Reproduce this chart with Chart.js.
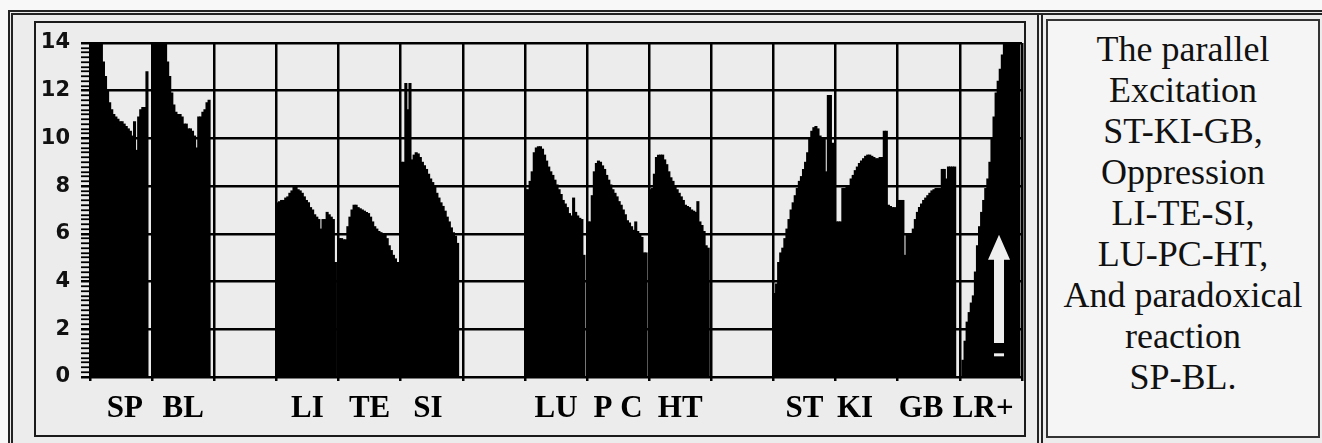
<!DOCTYPE html>
<html><head><meta charset="utf-8">
<script src="https://cdn.jsdelivr.net/npm/chart.js@4.4.1/dist/chart.umd.min.js"></script>
<style>
html,body{margin:0;padding:0;background:#f8f8f8;width:1322px;height:443px;overflow:hidden;position:relative;}
#outer{position:absolute;left:8px;top:10px;width:1340px;height:460px;border-top:5px double #222;border-left:5px double #222;background:#ececec;box-sizing:border-box;}
#divider{position:absolute;left:1037px;top:13px;width:6px;height:440px;border-left:6px double #222;box-sizing:border-box;}
#inner{position:absolute;left:34px;top:21px;width:992px;height:416px;border:2px solid #1a1a1a;box-sizing:border-box;background:#ececec;}
#note{position:absolute;left:1046px;top:19px;width:274px;height:419px;border:2px solid #333;box-sizing:border-box;background:#f5f5f5;
 font-family:'Liberation Serif','DejaVu Serif','Times New Roman',Times,serif;font-size:36px;line-height:41px;text-align:center;color:#111;padding-top:8px;}
#c{position:absolute;left:0;top:0;}
</style></head>
<body>
<div id="outer"></div>
<div id="divider"></div>
<div id="inner"></div>
<div id="note">The parallel<br>Excitation<br>ST-KI-GB,<br>Oppression<br>LI-TE-SI,<br>LU-PC-HT,<br>And paradoxical<br>reaction<br>SP-BL.</div>
<canvas id="c" width="1322" height="443"></canvas>
<script>
// Category cells along the x axis (empty strings are blank cells)
const cells = ['SP','BL','','LI','TE','SI','','LU','PC','HT','','ST','KI','GB','LR+'];
// Tick labels shown under each cell (as typed under the original chart)
const cellLabels = [' SP','BL','','LI','TE','SI ','','LU','P C','HT','','ST','KI   ','GB  ','LR+  '];
// Y axis tick labels
const yLabels = [0,2,4,6,8,10,12,14];
// Readings per cell (each value is one narrow bar)
const SP = [14,14,14,14,14,14,13.2,12.6,12.0,11.5,11.2,11.0,10.9,10.8,10.7,10.7,10.6,10.5,10.4,10.3,10.1,10.7,9.5,10.9,11.2,11.3,11.3,12.8];
const BL = [14,14,14,14,14,14,14,13.2,12.6,11.9,11.4,11.1,11.0,11.0,10.9,10.6,10.6,10.4,10.4,10.3,10.1,9.6,10.9,10.9,11.1,11.2,11.5,11.6];
const LI = [7.3,7.35,7.4,7.4,7.5,7.55,7.7,7.8,7.95,7.95,7.85,7.8,7.7,7.55,7.4,7.3,7.1,7.0,6.8,6.7,6.6,6.2,6.6,6.6,6.9,6.8,6.7,6.6,4.8];
const TE = [5.8,5.8,5.75,5.75,6.3,6.7,7.0,7.2,7.2,7.1,7.05,7.0,6.95,6.9,6.85,6.7,6.5,6.3,6.2,6.1,6.05,6.0,5.95,5.8,5.5,5.3,5.1,4.95,4.8];
const SI = [9.0,9.0,12.3,11.2,12.3,9.1,9.3,9.4,9.35,9.2,9.0,8.85,8.7,8.5,8.3,8.15,7.95,7.7,7.5,7.3,7.15,6.95,6.7,6.5,6.25,6.05,5.9,5.6];
const LU = [7.85,7.85,8.2,8.6,9.4,9.6,9.65,9.65,9.55,9.3,9.05,8.8,8.6,8.45,8.25,8.05,7.85,7.65,7.4,7.25,7.1,6.85,6.75,7.5,6.9,6.75,6.65,6.6,5.1];
const PC = [6.5,6.5,7.6,8.6,8.95,9.05,9.0,8.85,8.7,8.45,8.25,8.05,7.85,7.7,7.55,7.35,7.2,7.0,6.8,6.55,6.45,6.3,6.15,6.5,6.1,5.95,5.85,5.2,5.2];
const HT = [7.85,7.9,8.5,9.2,9.3,9.3,9.3,9.1,8.9,8.6,8.35,8.2,8.0,7.85,7.7,7.55,7.4,7.2,7.15,7.1,7.0,6.95,6.9,7.35,6.5,6.35,6.1,5.5,5.4];
const ST = [3.5,3.9,4.8,5.2,5.4,5.8,6.2,6.6,7.0,7.3,7.6,7.9,8.2,8.4,8.7,9.0,9.4,10.0,10.3,10.45,10.5,10.4,10.1,10.0,10.0,8.6,11.8,11.8,9.8];
const KI = [6.5,6.5,6.5,7.9,7.9,7.95,8.0,8.3,8.45,8.65,8.8,8.95,9.05,9.15,9.25,9.3,9.3,9.25,9.2,9.15,9.15,9.2,9.2,10.3,10.3,7.2,7.15,7.1,7.1];
const GB = [7.4,7.4,7.4,5.1,6.0,6.0,6.0,6.2,6.6,6.9,7.1,7.25,7.4,7.5,7.6,7.7,7.8,7.85,7.9,7.9,7.9,8.7,8.7,8.3,8.8,8.8,8.8,8.8];
const LR = [null,0.7,1.5,2.3,2.7,3.1,3.4,4.4,5.5,6.3,6.9,7.4,7.9,8.3,9.0,10.0,10.9,11.9,12.4,12.9,13.5,14,14,14,14,14,14,14,14];
const cellValues = [SP,BL,[],LI,TE,SI,[],LU,PC,HT,[],ST,KI,GB,LR];
// Arrow annotation in the LR+ cell (in data units)
const arrowMark = {cell:'LR+', slot:18.4, base:1.42, headBase:4.91, tip:5.96, dash:0.93};

const SLOTS = 30;
const slotLabels = [];
const values = [];
cells.forEach((c,i)=>{
  for(let k=0;k<SLOTS;k++){
    slotLabels.push(c+'|'+k);
    const arr = cellValues[i];
    values.push(k<arr.length ? arr[k] : null);
  }
});

const arrowPlugin = {
  id:'arrow',
  afterDatasetsDraw(chart){
    const xs = chart.scales.x, ys = chart.scales.y, ctx = chart.ctx;
    const idx = cells.indexOf(arrowMark.cell);
    const cx = xs.getPixelForValue(idx*SLOTS + arrowMark.slot);
    const yb = ys.getPixelForValue(arrowMark.base);
    const yh = ys.getPixelForValue(arrowMark.headBase);
    const yt = ys.getPixelForValue(arrowMark.tip);
    const yd = ys.getPixelForValue(arrowMark.dash);
    ctx.save();
    ctx.fillStyle = '#efefef';
    ctx.beginPath();
    ctx.moveTo(cx-5, yb); ctx.lineTo(cx-5, yh); ctx.lineTo(cx-11, yh);
    ctx.lineTo(cx, yt); ctx.lineTo(cx+11, yh); ctx.lineTo(cx+5, yh); ctx.lineTo(cx+5, yb);
    ctx.closePath(); ctx.fill();
    ctx.fillRect(cx-5, yd-1.5, 10, 3);
    ctx.restore();
  }
};

const isMajor = v => { const r = Math.round(v); return Math.abs(v-r)<1e-6 && yLabels.includes(r); };

new Chart(document.getElementById('c'), {
  type:'bar',
  data:{labels:slotLabels, datasets:[{data:values, backgroundColor:'#000', borderWidth:0,
    barPercentage:1, categoryPercentage:1, inflateAmount:0.5, xAxisID:'x', yAxisID:'y'}]},
  options:{
    responsive:false, animation:false, devicePixelRatio:1,
    layout:{padding:{left:0, top:43, right:300, bottom:0}},
    plugins:{legend:{display:false}, tooltip:{enabled:false}},
    scales:{
      x:{type:'category', display:false, offset:true},
      x2:{type:'category', labels:cells, position:'bottom', offset:true,
        grid:{offset:true, color:'#000', lineWidth:2.5, tickLength:4, tickColor:'#000', drawOnChartArea:true},
        border:{display:true, color:'#000', width:2},
        ticks:{font:{family:'Liberation Serif', weight:'bold', size:31}, color:'#000', padding:9, autoSkip:false, maxRotation:0,
          callback:(v,i)=> cellLabels[i]},
        afterFit(s){ s.height = 66; }},
      y:{type:'linear', min:0, max:14,
        ticks:{stepSize:0.2, autoSkip:false, maxTicksLimit:200, padding:11, color:'#111',
          font:{family:'DejaVu Sans', weight:'bold', size:21},
          callback:(v)=> isMajor(v) ? String(Math.round(v)) : ''},
        grid:{color:(c)=> isMajor(c.tick.value) ? '#000' : 'rgba(0,0,0,0)', lineWidth:2.5,
          tickLength:9, tickColor:'#000', tickWidth:(c)=> isMajor(c.tick.value) ? 2.5 : 1.8},
        border:{display:true, color:'#000', width:2},
        afterFit(s){ s.width = 90; }}
    }
  },
  plugins:[arrowPlugin]
});
</script>
</body></html>
